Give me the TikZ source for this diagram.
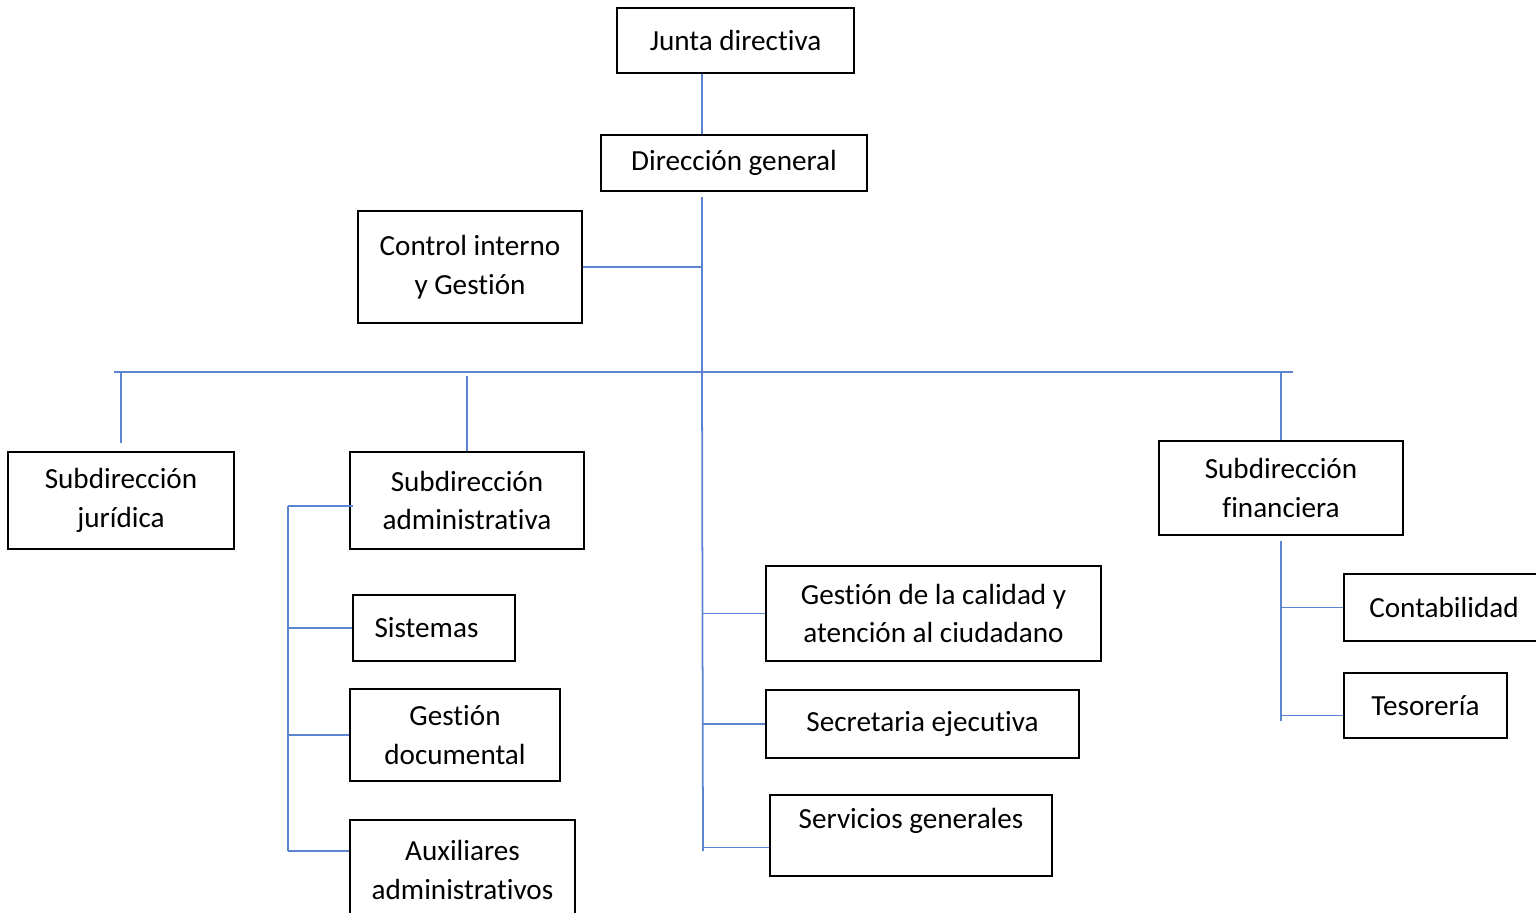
\documentclass[tikz,border=0pt]{standalone}
\usepackage{fontspec}
\setmainfont{Carlito}[RawFeature={-liga;-clig;-calt;-rlig;-dlig}]
\usepackage{tikz}
\definecolor{azul500}{HTML}{5B84D2}
\tikzstyle{caja}=[rectangle, draw=black, line width=1.4pt, inner sep=0pt, align=center, font=\fontsize{16.6}{22}\selectfont]
\tikzstyle{conector}=[draw=azul500, line width=1pt]

\begin{document}
\begin{tikzpicture}[x=0.02cm, y=-0.02cm]
			\useasboundingbox (0,0) rectangle (1536,913);
			\node[caja, minimum width=4.74cm, minimum height=1.30cm] (junta) at (735.5,40.5) {Junta directiva};
			\node[caja, minimum width=5.32cm, minimum height=1.12cm] (direccion) at (734,163) {Dirección general};
			\node[caja, minimum width=4.48cm, minimum height=2.24cm] (control) at (470,267) {Control interno\\y Gestión};
			\node[caja, minimum width=4.52cm, minimum height=1.94cm] (juridica) at (121,500.5) {Subdirección\\jurídica};
			\node[caja, minimum width=4.68cm, minimum height=1.94cm] (administrativa) at (467,500.5) {Subdirección\\administrativa};
			\node[caja, minimum width=4.88cm, minimum height=1.88cm] (financiera) at (1281,488) {Subdirección\\financiera};
			\node[caja, minimum width=3.24cm, minimum height=1.32cm] (sistemas) at (434,628) {Sistemas\hspace{0.3cm}};
			\node[caja, minimum width=4.20cm, minimum height=1.84cm] (documental) at (455,735) {Gestión\\documental};
			\node[caja, minimum width=4.50cm, minimum height=2.00cm] (auxiliares) at (462.5,870) {Auxiliares\\administrativos};
			\node[caja, minimum width=6.70cm, minimum height=1.90cm] (calidad) at (933.5,613.5) {Gestión de la calidad y\\atención al ciudadano};
			\node[caja, minimum width=6.26cm, minimum height=1.36cm] (secretaria) at (922.5,724) {Secretaria ejecutiva};
			\node[caja, minimum width=5.64cm, minimum height=1.62cm] (servicios) at (911,835.5) {Servicios generales\\[-0.1cm]\mbox{}};
			\node[caja, minimum width=4.00cm, minimum height=1.34cm] (contabilidad) at (1444,607.5) {Contabilidad};
			\node[caja, minimum width=3.26cm, minimum height=1.30cm] (tesoreria) at (1425.5,705.5) {Tesorería};
			\coordinate (tronco) at (702,372);
			\coordinate (tronco fin) at (703,851);
			\coordinate (barra izq) at (114,372);
			\coordinate (barra der) at (1293,372);
			\coordinate (adm barra) at (288,506);
			\coordinate (fin barra) at (1281,541);
			\path[conector]
				(junta.south -| tronco)--(direccion.north -| tronco);
			\path[conector]
				([yshift=-0.1cm]direccion.south -| tronco)--(tronco)--(tronco fin);
			\path[conector]
				(control.east)--(control.east -| tronco);
			\path[conector]
				(barra izq)--(barra der);
			\path[conector, shorten >=0.16cm]
				(juridica.north |- barra izq)--(juridica.north);
			\path[conector, shorten <=0.08cm]
				(administrativa.north |- barra izq)--(administrativa.north);
			\path[conector]
				(financiera.north |- barra izq)--(financiera.north);
			\path[conector]
				(calidad.west -| tronco)--(calidad.west);
			\path[conector]
				(secretaria.west -| tronco)--(secretaria.west);
			\path[conector]
				([yshift=-0.24cm]servicios.west -| tronco)--([yshift=-0.24cm]servicios.west);
			\path[conector]
				(adm barra)--([xshift=0.08cm]administrativa.west |- adm barra);
			\path[conector]
				(adm barra)--([yshift=0.38cm]auxiliares.west -| adm barra);
			\path[conector]
				(sistemas.west -| adm barra)--(sistemas.west);
			\path[conector]
				(documental.west -| adm barra)--(documental.west);
			\path[conector]
				([yshift=0.38cm]auxiliares.west -| adm barra)--([yshift=0.38cm]auxiliares.west);
			\path[conector]
				(fin barra)--([yshift=-0.3cm]tesoreria.west -| fin barra);
			\path[conector]
				(contabilidad.west -| fin barra)--(contabilidad.west);
			\path[conector]
				([yshift=-0.2cm]tesoreria.west -| fin barra)--([yshift=-0.2cm]tesoreria.west);
		\end{tikzpicture}
\end{document}
